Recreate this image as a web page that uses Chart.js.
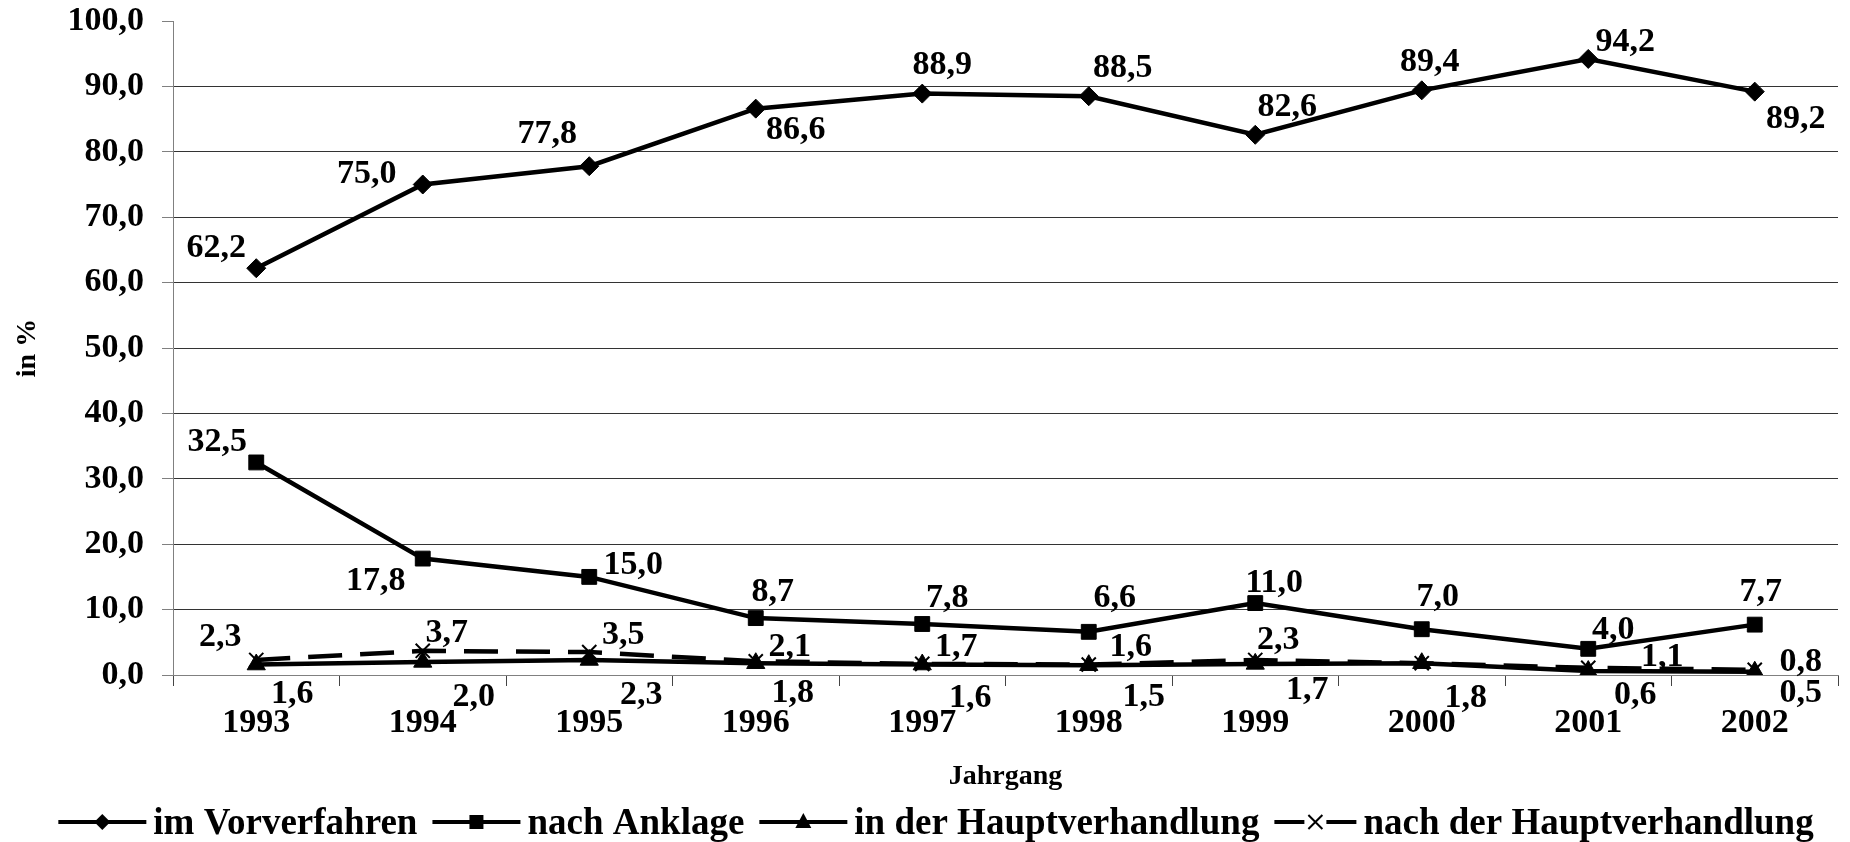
<!DOCTYPE html>
<html lang="de">
<head>
<meta charset="utf-8">
<title>Verfahrenseinstellungen nach Jahrgang</title>
<script src="https://cdn.jsdelivr.net/npm/chart.js@4.4.1/dist/chart.umd.min.js"></script>
<style>
  html, body { margin: 0; padding: 0; background: #fff; }
  #wrap { width: 1850px; height: 842px; }
</style>
</head>
<body>
<div id="wrap"><canvas id="chart"></canvas></div>
<script>
// ---- data ----
var years = ['1993', '1994', '1995', '1996', '1997', '1998', '1999', '2000', '2001', '2002'];
var imVorverfahren = [62.2, 75.0, 77.8, 86.6, 88.9, 88.5, 82.6, 89.4, 94.2, 89.2];
var nachAnklage = [32.5, 17.8, 15.0, 8.7, 7.8, 6.6, 11.0, 7.0, 4.0, 7.7];
var inDerHauptverhandlung = [1.6, 2.0, 2.3, 1.8, 1.6, 1.5, 1.7, 1.8, 0.6, 0.5];
var nachDerHauptverhandlung = [2.3, 3.7, 3.5, 2.1, 1.7, 1.6, 2.3, 1.8, 1.1, 0.8];

// where each value label sits relative to its point (px), null = not shown
var offVor = [[-40,-20], [-56,-10], [-42,-32], [40,22], [20,-28], [34,-28], [32,-28], [8,-28], [37,-17], [41,28]];
var offAnk = [[-39,-20], [-47,23], [44,-12], [17,-26], [25,-26], [26,-34], [19,-20], [16,-32], [25,-19], [6,-32]];
var offInHV = [[36,30], [51,35], [52,35], [37,30], [48,34], [55,32], [52,26], [44,35], [47,24], [46,21]];
var offNachHV = [[-36,-23], [24,-18], [34,-17], [34,-14], [34,-17], [42,-17], [23,-20], null, [74,-11], [46,-8]];

var FONT = "'Liberation Serif', 'Times New Roman', serif";
Chart.defaults.font.family = FONT;
Chart.defaults.font.weight = 'bold';
Chart.defaults.color = '#000';

function fmt(v) {
    return v.toFixed(1).replace('.', ',');
}

var valueLabels = {
    id: 'valueLabels',
    afterDatasetsDraw: function(chart) {
        var ctx = chart.ctx;
        ctx.save();
        ctx.font = 'bold 34px ' + FONT;
        ctx.fillStyle = '#000';
        ctx.textAlign = 'center';
        ctx.textBaseline = 'middle';
        chart.data.datasets.forEach(function(ds, i) {
            var meta = chart.getDatasetMeta(i);
            meta.data.forEach(function(pt, j) {
                var off = ds.labelOffsets[j];
                if (!off) return;
                ctx.fillText(fmt(ds.data[j]), pt.x + off[0], pt.y + off[1]);
            });
        });
        ctx.restore();
    }
};

// legend: line + marker symbol, then text
function drawMarker(ctx, type, x, y) {
    ctx.beginPath();
    if (type == 'rectRot') {
        ctx.moveTo(x - 8, y); ctx.lineTo(x, y - 8); ctx.lineTo(x + 8, y); ctx.lineTo(x, y + 8);
        ctx.closePath(); ctx.fill();
    } else if (type == 'rect') {
        ctx.rect(x - 7, y - 7, 14, 14); ctx.fill();
    } else if (type == 'triangle') {
        ctx.moveTo(x, y - 9); ctx.lineTo(x + 8, y + 6); ctx.lineTo(x - 8, y + 6);
        ctx.closePath(); ctx.fill();
    } else {
        ctx.lineWidth = 2;
        ctx.moveTo(x - 7, y - 7); ctx.lineTo(x + 7, y + 7);
        ctx.moveTo(x + 7, y - 7); ctx.lineTo(x - 7, y + 7);
        ctx.stroke();
    }
}

var lineLegend = {
    id: 'lineLegend',
    afterDraw: function(chart) {
        var ctx = chart.ctx;
        ctx.save();
        ctx.font = 'bold 37px ' + FONT;
        var items = chart.data.datasets.map(function(ds) {
            return { ds: ds, w: ctx.measureText(ds.label).width, sw: ds.borderDash ? 82 : 88 };
        });
        var total = 0;
        items.forEach(function(it, i) { total += it.sw + 7 + it.w + (i ? 15 : 0); });
        var x = chart.width / 2 + 11 - total / 2;
        var y = 822;
        ctx.fillStyle = '#000';
        ctx.strokeStyle = '#000';
        ctx.textBaseline = 'middle';
        items.forEach(function(it) {
            ctx.lineWidth = 4;
            ctx.beginPath();
            if (it.ds.borderDash) {
                ctx.moveTo(x, y); ctx.lineTo(x + 30, y);
                ctx.moveTo(x + it.sw - 30, y); ctx.lineTo(x + it.sw, y);
            } else {
                ctx.moveTo(x, y); ctx.lineTo(x + it.sw, y);
            }
            ctx.stroke();
            drawMarker(ctx, it.ds.pointStyle, x + it.sw / 2, y);
            ctx.fillText(it.ds.label, x + it.sw + 7, y + 2);
            x += it.sw + 7 + it.w + 15;
        });
        ctx.restore();
    }
};

function series(label, data, style, radius, offsets, dash) {
    var ds = {
        label: label,
        data: data,
        borderColor: '#000',
        backgroundColor: '#000',
        borderWidth: 4.5,
        tension: 0,
        pointStyle: style,
        pointRadius: radius,
        pointBorderWidth: style == 'crossRot' ? 2 : 1,
        pointBackgroundColor: '#000',
        pointBorderColor: '#000',
        labelOffsets: offsets
    };
    if (dash) ds.borderDash = dash;
    return ds;
}

var ctx = document.getElementById('chart').getContext('2d');
var chart = new Chart(ctx, {
    type: 'line',
    data: {
        labels: years,
        datasets: [
            series('im Vorverfahren', imVorverfahren, 'rectRot', 9.5, offVor),
            series('nach Anklage', nachAnklage, 'rect', 10.5, offAnk),
            series('in der Hauptverhandlung', inDerHauptverhandlung, 'triangle', 10.5, offInHV),
            series('nach der Hauptverhandlung', nachDerHauptverhandlung, 'crossRot', 10, offNachHV, [34, 18])
        ]
    },
    options: {
        responsive: true,
        maintainAspectRatio: false,
        animation: false,
        layout: { padding: { top: 0, right: 9, bottom: 48, left: 0 } },
        plugins: {
            legend: { display: false },
            tooltip: { enabled: false }
        },
        scales: {
            x: {
                offset: true,
                afterFit: function(scale) { scale.height = 119; },
                grid: {
                    offset: true,
                    drawOnChartArea: false,
                    tickLength: 11,
                    tickColor: '#444'
                },
                border: { color: '#808080', width: 1 },
                ticks: {
                    font: { size: 34, weight: 'bold' },
                    padding: 17,
                    maxRotation: 0,
                    autoSkip: false
                },
                title: {
                    display: true,
                    text: 'Jahrgang',
                    font: { size: 28, weight: 'bold' },
                    padding: { top: 16, bottom: 0 }
                }
            },
            y: {
                min: 0,
                max: 100,
                afterFit: function(scale) {
                    scale.width = 173;
                    scale.paddingTop = 21;
                    scale.paddingBottom = 21;
                },
                grid: {
                    color: function(c) {
                        if (c.tick.value == 100) return 'rgba(0,0,0,0)';
                        if (c.tick.value == 0) return '#808080';
                        return '#333';
                    },
                    tickLength: 11,
                    tickColor: '#808080'
                },
                border: { color: '#808080', width: 1 },
                ticks: {
                    stepSize: 10,
                    padding: 18,
                    font: { size: 34, weight: 'bold' },
                    callback: function(v) { return fmt(v); }
                },
                title: {
                    display: true,
                    text: 'in %',
                    font: { size: 28, weight: 'bold' },
                    padding: { top: 11, bottom: 10 }
                }
            }
        }
    },
    plugins: [valueLabels, lineLegend]
});
</script>
</body>
</html>
